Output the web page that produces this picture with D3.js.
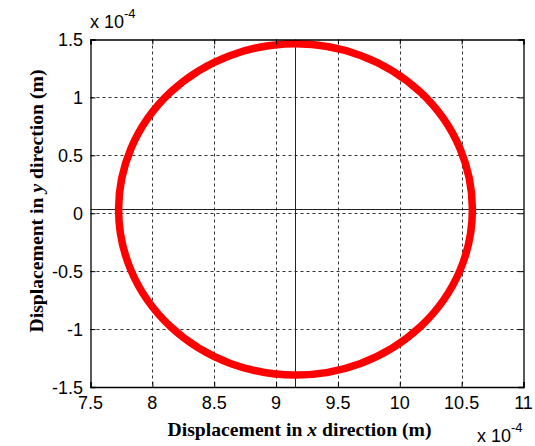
<!DOCTYPE html>
<html>
<head>
<meta charset="utf-8">
<script src="https://cdn.jsdelivr.net/npm/d3@7"></script>
<style>
  html, body { margin: 0; padding: 0; background: #fff; }
  svg { display: block; }
  .tick-label { font-family: "Liberation Sans", Arial, sans-serif; font-size: 18px; fill: #000; }
  .axis-title { font-family: "Liberation Serif", "Times New Roman", serif; font-size: 19.5px; font-weight: bold; fill: #000; }
</style>
</head>
<body>
<svg id="chart" width="535" height="446"></svg>
<script>
// Axis ticks (values in units of 1e-4 m)
const xTicks = [7.5, 8, 8.5, 9, 9.5, 10, 10.5, 11];
const yTicks = [-1.5, -1, -0.5, 0, 0.5, 1, 1.5];
const xTickLabels = ["7.5", "8", "8.5", "9", "9.5", "10", "10.5", "11"];
const yTickLabels = ["-1.5", "-1", "-0.5", "0", "0.5", "1", "1.5"];

// Orbit of the rotor centre: centre point and radius (1e-4 m)
const orbitCenterX = [9.157];
const orbitCenterY = [0.033];
const orbitRadius = [1.43];

const svg = d3.select("#chart");
const plot = { left: 90.5, right: 523.5, top: 39.5, bottom: 387 };

const x = d3.scaleLinear().domain([7.5, 11]).range([plot.left, plot.right]);
const y = d3.scaleLinear().domain([-1.5, 1.5]).range([plot.bottom, plot.top]);

// Dashed grid
const grid = svg.append("g").attr("stroke", "#333").attr("stroke-width", 1).attr("stroke-dasharray", "3,3");
grid.selectAll("line.gx").data(xTicks.slice(1, -1)).join("line")
  .attr("x1", d => Math.round(x(d)) + 0.5).attr("x2", d => Math.round(x(d)) + 0.5)
  .attr("y1", plot.top).attr("y2", plot.bottom);
grid.selectAll("line.gy").data(yTicks.slice(1, -1)).join("line")
  .attr("y1", d => Math.round(y(d)) + 0.5).attr("y2", d => Math.round(y(d)) + 0.5)
  .attr("x1", plot.left).attr("x2", plot.right);

// Cross-hair through the orbit centre
const cx = x(orbitCenterX[0]), cy = y(orbitCenterY[0]);
svg.append("line").attr("x1", Math.round(cx) + 0.5).attr("x2", Math.round(cx) + 0.5)
  .attr("y1", plot.top).attr("y2", plot.bottom).attr("stroke", "#222").attr("stroke-width", 1);
svg.append("line").attr("y1", Math.round(cy) + 0.5).attr("y2", Math.round(cy) + 0.5)
  .attr("x1", plot.left).attr("x2", plot.right).attr("stroke", "#222").attr("stroke-width", 1);

// Orbit
svg.append("ellipse")
  .attr("cx", cx).attr("cy", cy)
  .attr("rx", x(orbitCenterX[0] + orbitRadius[0]) - cx)
  .attr("ry", cy - y(orbitCenterY[0] + orbitRadius[0]))
  .attr("fill", "none").attr("stroke", "#ff0000").attr("stroke-width", 7.5);

// Axes box with inward ticks on all sides
const xAxisB = d3.axisBottom(x).tickValues(xTicks).tickSize(-5).tickFormat("");
const xAxisT = d3.axisTop(x).tickValues(xTicks).tickSize(-5).tickFormat("");
const yAxisL = d3.axisLeft(y).tickValues(yTicks).tickSize(-5).tickFormat("");
const yAxisR = d3.axisRight(y).tickValues(yTicks).tickSize(-5).tickFormat("");
svg.append("g").attr("transform", `translate(0,${plot.bottom})`).call(xAxisB);
svg.append("g").attr("transform", `translate(0,${plot.top})`).call(xAxisT);
svg.append("g").attr("transform", `translate(${plot.left},0)`).call(yAxisL);
svg.append("g").attr("transform", `translate(${plot.right},0)`).call(yAxisR);
svg.selectAll(".domain").attr("stroke", "#000").attr("stroke-width", 1.3);
svg.selectAll(".tick line").attr("stroke", "#000");

// Tick labels
svg.append("g").selectAll("text").data(xTicks).join("text")
  .attr("class", "tick-label").attr("text-anchor", "middle")
  .attr("x", d => x(d)).attr("y", 409)
  .text((d, i) => xTickLabels[i]);
svg.append("g").selectAll("text").data(yTicks).join("text")
  .attr("class", "tick-label").attr("text-anchor", "end")
  .attr("x", 83).attr("y", d => y(d) + 6.5)
  .text((d, i) => yTickLabels[i]);

// Exponent multipliers
function multiplier(xPos, yPos) {
  const t = svg.append("text").attr("class", "tick-label").attr("x", xPos).attr("y", yPos);
  t.append("tspan").text("x 10");
  t.append("tspan").attr("font-size", "13px").attr("dy", -10).text("-4");
}
multiplier(90, 28);
multiplier(477, 442);

// Axis titles, fitted to a set length along the text direction
function axisTitle(letter, tx, ty, angle, length) {
  const g = svg.append("g").attr("transform", `translate(${tx},${ty}) rotate(${angle})`);
  const t = g.append("text").attr("class", "axis-title").attr("text-anchor", "middle");
  t.append("tspan").text("Displacement in ");
  t.append("tspan").attr("font-style", "italic").text(letter);
  t.append("tspan").text(" direction (m)");
  const w = t.node().getComputedTextLength();
  t.attr("transform", `scale(${length / w},1)`);
}
axisTitle("x", 299.5, 436, 0, 264);
axisTitle("y", 43, 201, -90, 263);
</script>
</body>
</html>
